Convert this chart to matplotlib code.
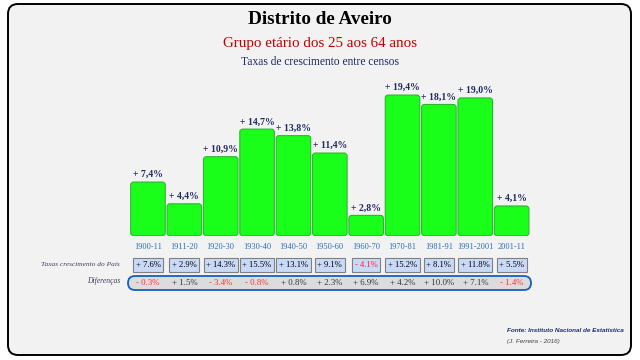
import numpy as np
import matplotlib.pyplot as plt
from matplotlib.patches import FancyBboxPatch
from matplotlib.transforms import blended_transform_factory

periods = ['1900-11', '1911-20', '1920-30', '1930-40', '1940-50', '1950-60',
           '1960-70', '1970-81', '1981-91', '1991-2001', '2001-11']
aveiro = [7.4, 4.4, 10.9, 14.7, 13.8, 11.4, 2.8, 19.4, 18.1, 19.0, 4.1]
pais = [7.6, 2.9, 14.3, 15.5, 13.1, 9.1, -4.1, 15.2, 8.1, 11.8, 5.5]
difer = [-0.3, 1.5, -3.4, -0.8, 0.8, 2.3, 6.9, 4.2, 10.0, 7.1, -1.4]

serif = 'Liberation Serif'

def fmt(v, sep='.'):
    s = '+ ' if v >= 0 else '- '
    return s + f'{abs(v):.1f}'.replace('.', sep) + '%'

fig = plt.figure(figsize=(6.4, 3.6), dpi=100)

# canvas in pixel coords for the frame and texts
cv = fig.add_axes([0, 0, 1, 1])
cv.set_xlim(0, 640)
cv.set_ylim(360, 0)
cv.axis('off')
cv.add_patch(FancyBboxPatch((8, 4), 623, 351, boxstyle='round,pad=0,rounding_size=10',
                            fc='#f2f2f2', ec='black', lw=1.4))

cv.text(320, 20, 'Distrito de Aveiro', ha='center', va='center', family=serif,
        fontsize=13.8, fontweight='bold', color='black')
cv.text(320, 44, 'Grupo etário dos 25 aos 64 anos', ha='center', va='center',
        family=serif, fontsize=10.8, color='#c00000')
cv.text(320, 62, 'Taxas de crescimento entre censos', ha='center', va='center',
        family=serif, fontsize=8.3, color='#1f2a60')

# bars
ax = fig.add_axes([129.8 / 640, (360 - 235.7) / 360, 400 / 640, 159.5 / 360])
ax.set_xlim(-0.5, 10.5)
ax.set_ylim(0, 22)
ax.axis('off')
x = np.arange(len(periods))
bars = ax.bar(x, aveiro, width=0.95)
asp = (400 / 11) / (159.5 / 22)
for b, v in zip(bars, aveiro):
    b.set_visible(False)
    ax.add_patch(FancyBboxPatch((b.get_x(), 0), b.get_width(), b.get_height(),
                                boxstyle='round,pad=0,rounding_size=0.08',
                                mutation_aspect=asp, fc='#1aff1a', ec='#2fb52f', lw=0.8))
    ax.annotate(fmt(v, ','), (b.get_x() + b.get_width() / 2, v), xytext=(0, 2),
                textcoords='offset points', ha='center', va='bottom', family=serif,
                fontsize=7, fontweight='bold', color='#1f2a60')

tr = blended_transform_factory(ax.transData, cv.transData)

for i, p in enumerate(periods):
    cv.text(i, 247, p, transform=tr, ha='center', va='center', family=serif,
            fontsize=6, color='#2a6ebb')

cv.text(120, 265, 'Taxas crescimento do País', ha='right', va='center', family=serif,
        fontsize=5.3, style='italic', color='#404060')
for i, v in enumerate(pais):
    cv.text(i, 265, fmt(v), transform=tr, ha='center', va='center', family=serif,
            fontsize=6.2, color='black' if v >= 0 else '#ff2020',
            bbox=dict(boxstyle='square,pad=0.3', fc='#c9daf8', ec='#808080', lw=0.8))

cv.text(120, 281, 'Diferenças', ha='right', va='center', family=serif,
        fontsize=5.5, style='italic', color='#404060')
cv.add_patch(FancyBboxPatch((128, 276), 403, 14, boxstyle='round,pad=0,rounding_size=7',
                            fc='#dcdcdc', ec='#1560bd', lw=1.3))
for i, v in enumerate(difer):
    cv.text(i, 283, fmt(v), transform=tr, ha='center', va='center', family=serif,
            fontsize=6.3, color='#333333' if v >= 0 else '#ff3030')

cv.text(507, 331, 'Fonte: Instituto Nacional de Estatística', ha='left', va='center',
        family='Liberation Sans', fontsize=4.6, fontweight='bold', style='italic',
        color='#1f2a6e')
cv.text(507, 342, '(J. Ferreira - 2016)', ha='left', va='center',
        family='Liberation Sans', fontsize=4.6, style='italic', color='#404040')

fig.savefig('out.png', dpi=100)
